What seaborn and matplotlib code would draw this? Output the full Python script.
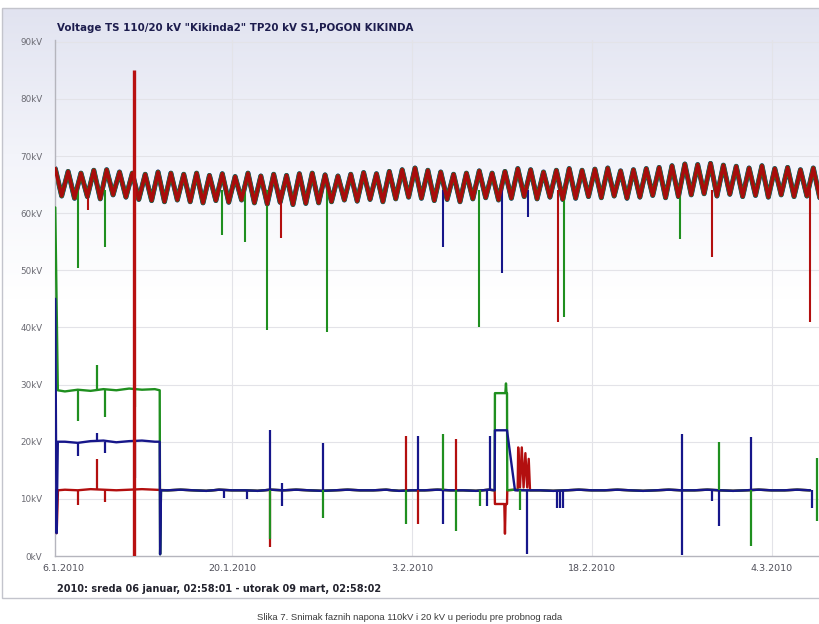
import numpy as np
import pandas as pd
import matplotlib
matplotlib.use("Agg")
import matplotlib.pyplot as plt
from matplotlib.patches import Rectangle
from matplotlib.colors import LinearSegmentedColormap
import seaborn as sns

sns.set_theme(style="white")
plt.rcParams['font.family'] = ['DejaVu Sans']

# ---------------- data (days since 6.1.2010, kV) ----------------
TITLE = 'Voltage TS 110/20 kV "Kikinda2" TP20 kV S1,POGON KIKINDA'
FOOTER = '2010: sreda 06 januar, 02:58:01 - utorak 09 mart, 02:58:02'
CAPTION = 'Slika 7. Snimak faznih napona 110kV i 20 kV u periodu pre probnog rada'

y_ticks = [0, 10, 20, 30, 40, 50, 60, 70, 80, 90]
y_labels = ['0kV', '10kV', '20kV', '30kV', '40kV', '50kV', '60kV', '70kV', '80kV', '90kV']
x_ticks = [0.85, 14, 28, 42, 56]
x_labels = ['6.1.2010', '20.1.2010', '3.2.2010', '18.2.2010', '4.3.2010']
x_grid = [14, 28, 42, 56]

# 110 kV phase voltage: daily maxima (night) and minima (evening)
peak_110 = [67.8, 67.3, 67.0, 67.5, 67.6, 67.2, 67.0, 66.8, 67.2, 67.0,
            66.8, 67.0, 66.6, 66.9, 66.4, 67.0, 66.5, 66.8, 66.6, 66.9,
            67.0, 66.7, 66.5, 66.8, 67.1, 66.9, 67.3, 67.6, 67.9, 67.5,
            67.2, 66.8, 67.0, 67.4, 67.0, 67.3, 67.8, 67.6, 67.2, 67.5,
            67.8, 67.5, 67.7, 67.9, 67.4, 67.6, 67.8, 68.0, 68.3, 68.6,
            68.5, 68.7, 68.4, 68.2, 67.9, 68.3, 67.8, 68.0, 67.6, 67.9]
trough_110 = [63.0, 62.6, 62.9, 62.5, 63.2, 62.8, 62.4, 62.2, 62.0, 62.3,
              62.0, 61.8, 62.2, 61.9, 62.3, 61.8, 61.6, 61.9, 61.5, 61.7,
              61.8, 62.0, 62.3, 62.1, 62.4, 62.0, 62.5, 62.8, 62.6, 62.2,
              62.4, 62.0, 62.5, 62.7, 62.3, 62.6, 62.9, 62.5, 62.8, 62.4,
              62.6, 62.9, 62.7, 63.0, 62.6, 62.8, 63.1, 62.7, 62.9, 63.2,
              63.4, 63.0, 63.3, 62.9, 63.1, 62.8, 63.2, 62.9, 63.0, 62.7]
peak_hour = 0.25     # fraction of day of the maximum
trough_hour = 0.75   # fraction of day of the minimum

# 110 kV short disturbances (vertical excursions)
ev110_day = [2.02, 2.80, 4.12, 13.23, 15.02, 16.73, 17.82, 21.40, 30.43,
             33.23, 35.02, 37.04, 39.38, 39.84, 48.87, 51.36, 58.99]
ev110_lo = [50.4, 60.6, 54.0, 56.2, 55.0, 39.5, 55.7, 39.2, 54.0,
            40.0, 49.5, 59.4, 41.0, 41.9, 55.4, 52.4, 41.0]
ev110_hi = [64.0, 64.0, 64.0, 64.0, 64.0, 64.0, 64.0, 64.0, 64.0,
            64.0, 64.0, 64.0, 64.0, 64.0, 64.0, 64.0, 64.0]
ev110_phase = ['L2', 'L1', 'L2', 'L2', 'L2', 'L2', 'L1', 'L2', 'L3',
               'L2', 'L3', 'L3', 'L1', 'L2', 'L2', 'L1', 'L1']

# large L1 transient on 110 kV side
surge_day = [6.38]
surge_lo = [0.0]
surge_hi = [85.0]

# 20 kV side: first days with faulty measurement
p1_days = [1, 2, 3, 4, 5, 6, 7, 8]
p1_L1 = [11.6, 11.5, 11.7, 11.6, 11.5, 11.6, 11.7, 11.6]
p1_L2 = [28.8, 29.1, 28.9, 29.2, 29.0, 29.3, 29.1, 29.2]
p1_L3 = [20.0, 19.8, 20.1, 20.2, 19.9, 20.1, 20.2, 20.0]

# 20 kV side: normal operation, daily values (all three phases)
p2_days = list(range(9, 60))
p2_level = [11.5, 11.6, 11.5, 11.4, 11.6, 11.5, 11.5, 11.4, 11.6, 11.5,
            11.6, 11.5, 11.4, 11.5, 11.6, 11.5, 11.5, 11.6, 11.4, 11.5,
            11.5, 11.6, 11.5, 11.5, 11.4, 11.6, 11.5, 11.6, 11.5, 11.5,
            11.4, 11.5, 11.6, 11.5, 11.5, 11.6, 11.5, 11.4, 11.5, 11.6,
            11.5, 11.5, 11.6, 11.5, 11.4, 11.5, 11.6, 11.5, 11.5, 11.6, 11.5]

# 20 kV recorded switching sequences (day, kV)
seq_L1 = [
    [(0.25, 11.5), (0.36, 4.0), (0.46, 11.5)],
    [(34.45, 11.5), (34.47, 9.1), (35.20, 9.1), (35.25, 3.9), (35.30, 9.1),
     (35.41, 9.1), (35.43, 11.5)],
    [(36.24, 11.5), (36.28, 19.0), (36.42, 12.0), (36.56, 19.0), (36.70, 12.0),
     (36.84, 18.0), (36.98, 12.0), (37.10, 17.0), (37.20, 11.5)],
]
seq_L2 = [
    [(0.25, 61.0), (0.45, 29.0)],
    [(8.38, 29.0), (8.41, 0.3), (8.48, 11.5)],
    [(34.45, 11.5), (34.47, 28.5), (35.28, 28.5), (35.33, 30.2), (35.37, 28.5),
     (35.41, 28.5), (35.43, 11.5)],
]
seq_L3 = [
    [(0.25, 45.0), (0.35, 4.0), (0.45, 20.0)],
    [(8.38, 20.0), (8.41, 0.3), (8.48, 11.5)],
    [(34.45, 11.5), (34.47, 22.0), (35.41, 22.0), (36.03, 11.5)],
]

# 20 kV short spikes
sp20_day = [2.02, 2.02, 2.02, 3.50, 3.50, 3.50, 4.12, 4.12, 4.12, 6.46, 6.46,
            13.39, 15.18, 16.96, 16.96, 16.96, 17.90, 21.09, 21.09, 27.55, 27.55,
            28.48, 28.48, 30.43, 30.43, 31.44, 31.44, 33.31, 33.85, 34.09, 36.42,
            36.96, 39.30, 39.53, 39.77, 49.03, 51.36, 51.91, 51.91, 54.40, 54.40,
            59.14, 59.53]
sp20_lo = [23.7, 9.0, 17.5, 29.0, 11.6, 20.0, 24.3, 18.0, 9.5, 13.7, 26.0,
           10.2, 10.0, 1.5, 3.0, 11.5, 8.8, 6.7, 11.5, 5.6, 11.5,
           5.6, 11.5, 5.6, 11.5, 4.4, 11.5, 8.8, 8.8, 11.5, 8.0,
           0.3, 8.4, 8.4, 8.4, 0.2, 9.7, 5.3, 11.5, 1.8, 11.5,
           8.4, 6.2]
sp20_hi = [29.0, 11.6, 20.0, 33.4, 17.0, 21.5, 29.0, 20.0, 11.6, 20.0, 29.0,
           11.5, 11.5, 11.5, 11.5, 22.0, 12.8, 11.5, 19.7, 11.5, 21.0,
           11.5, 21.0, 11.5, 21.4, 11.5, 20.5, 11.5, 11.5, 21.0, 11.5,
           11.5, 11.5, 11.5, 11.5, 21.4, 11.5, 11.5, 19.9, 11.5, 20.8,
           11.5, 17.2]
sp20_phase = ['L2', 'L1', 'L3', 'L2', 'L1', 'L3', 'L2', 'L3', 'L1', 'L3', 'L2',
              'L3', 'L3', 'L1', 'L2', 'L3', 'L3', 'L2', 'L3', 'L2', 'L1',
              'L1', 'L3', 'L3', 'L2', 'L2', 'L1', 'L2', 'L3', 'L3', 'L2',
              'L3', 'L3', 'L3', 'L3', 'L3', 'L3', 'L3', 'L2', 'L2', 'L3',
              'L3', 'L2']

phase_colors = {'L1': '#b30f0f', 'L2': '#1f8f1f', 'L3': '#16168a'}

# ---------------- assemble series ----------------
n_days = len(peak_110)
t110 = np.concatenate([np.arange(n_days) + peak_hour, np.arange(n_days) + trough_hour])
v110 = np.concatenate([peak_110, trough_110])
order = np.argsort(t110)
df110 = pd.DataFrame({'day': t110[order], 'kV': v110[order]})


def build_20kv(p1_vals, sequences):
    pts = list(zip(p1_days, p1_vals)) + list(zip(p2_days, p2_level))
    for seq in sequences:
        lo, hi = seq[0][0], seq[-1][0]
        pts = [p for p in pts if not (lo <= p[0] <= hi)]
        pts += seq
    pts.sort()
    return pd.DataFrame(pts, columns=['day', 'kV'])


df20 = {
    'L1': build_20kv(p1_L1, seq_L1),
    'L2': build_20kv(p1_L2, seq_L2),
    'L3': build_20kv(p1_L3, seq_L3),
}

# ---------------- figure ----------------
W, H = 820, 624
fig = plt.figure(figsize=(W / 100, H / 100), dpi=100, facecolor='white')

# panel background: soft lavender fading to white, with thin frame
bg = fig.add_axes([0, 0, 1, 1], zorder=0)
bg.set_xlim(0, W)
bg.set_ylim(H, 0)
bg.axis('off')
grad = np.linspace(0, 1, 256)[:, None]
cmap = LinearSegmentedColormap.from_list('panel', ['#e1e3f0', '#f3f4fa', '#ffffff'])
bg.imshow(grad, cmap=cmap, aspect='auto', extent=[2, W + 5, 300, 8], zorder=0)
bg.add_patch(Rectangle((2, 8), W + 10, 590, fill=False, edgecolor='#c3c4cc', lw=1.0, zorder=2))

ax = fig.add_axes([55 / W, 1 - 556 / H, (W - 55) / W, (556 - 40) / H], zorder=1)
ax.set_facecolor('none')
ax.set_xlim(0.23, 59.77)
ax.set_ylim(0, 90.3)

for y in y_ticks[1:]:
    ax.axhline(y, color='#e3e3e8', lw=0.8, zorder=0)
for x in x_grid:
    ax.axvline(x, color='#e3e3e8', lw=0.8, zorder=0)

# 110 kV phases (L1 drawn last, on top)
for ph, lw in [('L3', 3.6), ('L2', 3.2)]:
    sns.lineplot(data=df110, x='day', y='kV', ax=ax, color=phase_colors[ph],
                 lw=lw, estimator=None, sort=False, legend=False, zorder=2)
ev = pd.DataFrame({'day': ev110_day, 'lo': ev110_lo, 'hi': ev110_hi, 'phase': ev110_phase})
for ph in ['L2', 'L3', 'L1']:
    sub = ev[ev.phase == ph]
    ax.vlines(sub.day, sub.lo, sub.hi, colors=phase_colors[ph], lw=1.5, zorder=2)
sns.lineplot(data=df110, x='day', y='kV', ax=ax, color='#a80c0c',
             lw=2.6, estimator=None, sort=False, legend=False, zorder=3)

# 20 kV phases (L3 drawn last, on top)
for ph in ['L1', 'L2', 'L3']:
    sns.lineplot(data=df20[ph], x='day', y='kV', ax=ax, color=phase_colors[ph],
                 lw=1.7, estimator=None, sort=False, legend=False, zorder=4)
for d, lo, hi, ph in zip(sp20_day, sp20_lo, sp20_hi, sp20_phase):
    ax.vlines(d, lo, hi, colors=phase_colors[ph], lw=1.6, zorder=4)

ax.vlines(surge_day, surge_lo, surge_hi, colors='#b81010', lw=2.4, zorder=5)

# axes styling
for s in ['top', 'right']:
    ax.spines[s].set_visible(False)
for s in ['left', 'bottom']:
    ax.spines[s].set_color('#b5b5bd')
    ax.spines[s].set_linewidth(1.0)
ax.set_yticks(y_ticks)
ax.set_yticklabels(y_labels, fontsize=6.3, color='#6a6a72')
ax.set_xticks(x_ticks)
ax.set_xticklabels(x_labels, fontsize=6.8, color='#50505a')
ax.tick_params(axis='y', length=0, pad=9)
ax.tick_params(axis='x', length=0, pad=6)
ax.set_xlabel('')
ax.set_ylabel('')

fig.text(57 / W, 1 - 28 / H, TITLE, fontsize=7.4, fontweight='bold',
         color='#1d1d4e', va='center', ha='left')
fig.text(57 / W, 1 - 589 / H, FOOTER, fontsize=7.0, fontweight='bold',
         color='#23232e', va='center', ha='left')
fig.text(0.5, 1 - 617 / H, CAPTION, fontsize=6.8, family=['Liberation Sans', 'DejaVu Sans'],
         color='#3a3a3a', va='center', ha='center')

fig.savefig('out.png', dpi=100, facecolor='white')
